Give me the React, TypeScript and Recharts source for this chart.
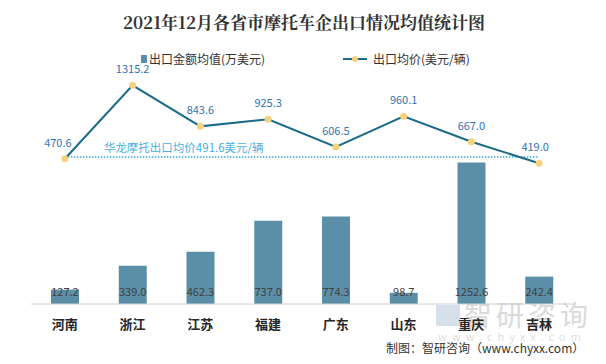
// 2021年12月各省市摩托车企出口情况均值统计图 — bars + line on two hidden axes
import {
  ComposedChart,
  Bar,
  Line,
  XAxis,
  YAxis,
  ReferenceLine,
  LabelList,
} from "recharts";

const provinces = ["河南", "浙江", "江苏", "福建", "广东", "山东", "重庆", "吉林"];
const exportAmount = [127.2, 339.0, 462.3, 737.0, 774.3, 98.7, 1252.6, 242.4];
const unitPrice = [470.6, 1315.2, 843.6, 925.3, 606.5, 960.1, 667.0, 419.0];
const huaLongAvg = 491.6;

const BAR_COLOR = "#5b8fa8";
const LINE_COLOR = "#1b6a8a";
const DOT_COLOR = "#f6d27c";
const FONT = "'Noto Sans CJK SC', 'Noto Sans', sans-serif";

const data = provinces.map((name, i) => ({
  name,
  amount: exportAmount[i],
  price: unitPrice[i],
}));

// bar labels sit just above the axis, not on top of the bar
const BarValue = (props: any) => {
  const { x, y, width, height, value } = props;
  return (
    <text
      x={x + width / 2}
      y={y + height - 8}
      textAnchor="middle"
      fontSize={11}
      fill="#404040"
      fontFamily={FONT}
    >
      {Number(value).toFixed(1)}
    </text>
  );
};

const PriceValue = (props: any) => {
  const { x, y, value, index } = props;
  const dx = index === 0 ? -7 : index === 7 ? -4 : 0;
  return (
    <text
      x={x + dx}
      y={y - 12}
      textAnchor="middle"
      fontSize={11}
      fill="#2f75b5"
      fontFamily={FONT}
    >
      {Number(value).toFixed(1)}
    </text>
  );
};

export default function App() {
  return (
    <div
      style={{
        position: "relative",
        width: 606,
        height: 364,
        margin: -8,
        background: "#fff",
        boxSizing: "border-box",
        border: "1px solid #a6a6a6",
        fontFamily: FONT,
        overflow: "hidden",
      }}
    >
      <div
        style={{
          position: "absolute",
          top: 8,
          left: 0,
          width: 606,
          textAlign: "center",
          fontSize: 17,
          fontWeight: "bold",
          color: "#333",
          fontFamily: "'Noto Serif CJK SC', 'Noto Sans CJK SC', serif",
        }}
      >
        2021年12月各省市摩托车企出口情况均值统计图
      </div>

      {/* legend */}
      <div style={{ position: "absolute", top: 49, left: 140, fontSize: 12, color: "#333", display: "flex", alignItems: "center" }}>
        <span style={{ display: "inline-block", width: 6, height: 8, background: BAR_COLOR, marginRight: 2 }} />
        出口金额均值(万美元)
      </div>
      <div style={{ position: "absolute", top: 49, left: 342, fontSize: 12, color: "#333", display: "flex", alignItems: "center" }}>
        <svg width={24} height={10} style={{ marginRight: 6 }}>
          <line x1={0} y1={5} x2={24} y2={5} stroke={LINE_COLOR} strokeWidth={2} />
          <circle cx={12} cy={5} r={3} fill={DOT_COLOR} />
        </svg>
        出口均价(美元/辆)
      </div>

      {/* watermark */}
      <div style={{ position: "absolute", top: 304, left: 435, width: 24, height: 21, background: "#cbd8e6", opacity: 0.8 }} />
      <div style={{ position: "absolute", top: 301, left: 463, fontSize: 28, lineHeight: "24px", color: "#dadada", letterSpacing: 4 }}>
        智研咨询
      </div>
      <div style={{ position: "absolute", top: 329, left: 437, fontSize: 11, lineHeight: "12px", color: "#e0e0e0", letterSpacing: 5 }}>
        www.chyxx.com
      </div>
      <div style={{ position: "absolute", top: 338, left: 385, fontSize: 12, color: "#333" }}>
        制图：智研咨询（www.chyxx.com）
      </div>

      <div style={{ position: "absolute", top: 0, left: 0 }}>
        <ComposedChart
          width={604}
          height={362}
          data={data}
          margin={{ top: 77, right: 32, bottom: 29, left: 30 }}
          barCategoryGap={0}
        >
          <XAxis
            dataKey="name"
            axisLine={{ stroke: "#d0d0d0" }}
            tickLine={false}
            tick={{ fill: "#262626", fontSize: 13, fontWeight: "bold", fontFamily: FONT }}
            tickMargin={10}
          />
          <YAxis yAxisId="amt" hide domain={[0, 2000]} />
          <YAxis yAxisId="price" hide orientation="right" domain={[-1200, 1400]} />
          <Bar
            yAxisId="amt"
            dataKey="amount"
            fill={BAR_COLOR}
            barSize={28}
            isAnimationActive={false}
          >
            <LabelList dataKey="amount" content={BarValue} />
          </Bar>
          <ReferenceLine
            yAxisId="price"
            segment={[
              { x: provinces[0], y: huaLongAvg },
              { x: provinces[provinces.length - 1], y: huaLongAvg },
            ]}
            stroke="#3aa6d8"
            strokeWidth={1.5}
            strokeDasharray="1.5 1.5"
            label={{
              value: `华龙摩托出口均价${huaLongAvg}美元/辆`,
              position: "insideTopLeft",
              fill: "#4bb0e0",
              fontSize: 11.5,
              fontFamily: FONT,
              dx: 34,
              dy: -18,
            }}
          />
          <Line
            yAxisId="price"
            dataKey="price"
            stroke={LINE_COLOR}
            strokeWidth={2}
            dot={{ r: 3.5, fill: DOT_COLOR, stroke: "none" }}
            isAnimationActive={false}
          >
            <LabelList dataKey="price" content={PriceValue} />
          </Line>
        </ComposedChart>
      </div>
    </div>
  );
}
